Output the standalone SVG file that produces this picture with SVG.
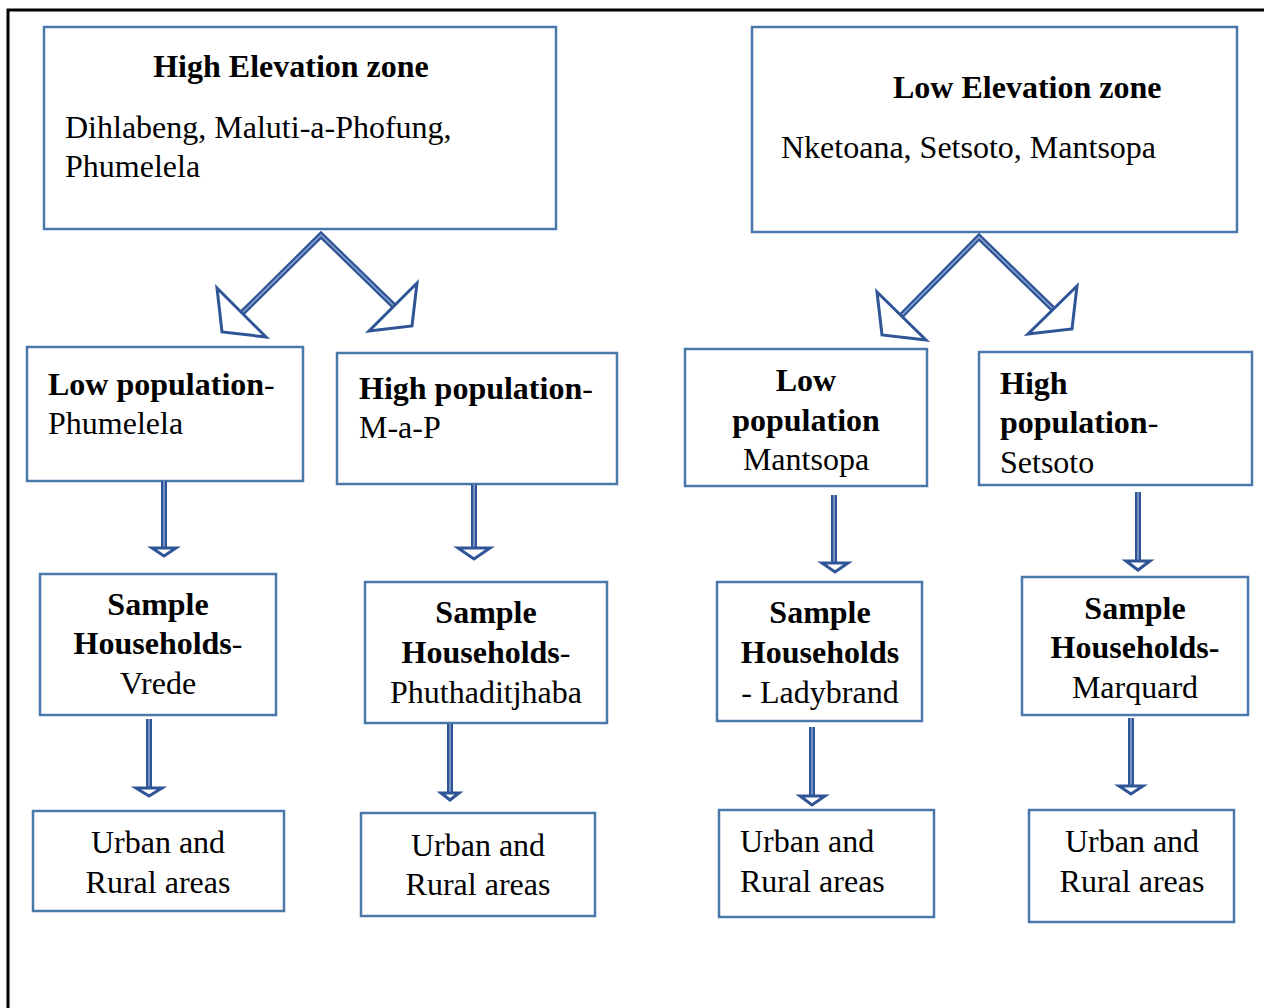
<svg xmlns="http://www.w3.org/2000/svg" width="1264" height="1008" viewBox="0 0 1264 1008">
<style>
.box{fill:#fff;stroke:#4a78aa;stroke-width:2.5}
text{font-family:"Liberation Serif","Times New Roman",serif;font-size:32px;fill:#000}
.b{font-weight:bold}
.m{text-anchor:middle}
.shaft{fill:none;stroke:#2f5597;stroke-width:6;stroke-linejoin:miter}
.inner{fill:none;stroke:#8ea6cf;stroke-width:1.5;stroke-linejoin:miter}
.head{fill:#fff;stroke:#2f5597;stroke-width:3;stroke-linejoin:miter}
</style>
<rect width="1264" height="1008" fill="#fff"/>
<path d="M8,1008 V10 H1264" fill="none" stroke="#000" stroke-width="3"/>

<g id="n1"><rect class="box" x="44" y="27" width="512" height="202"/>
<text class="b m" x="291" y="77">High Elevation zone</text>
<text x="65" y="138">Dihlabeng, Maluti-a-Phofung,</text>
<text x="65" y="177">Phumelela</text></g>

<g id="n2"><rect class="box" x="752" y="27" width="485" height="205"/>
<text class="b" x="893" y="98">Low Elevation zone</text>
<text x="781" y="158">Nketoana, Setsoto, Mantsopa</text></g>

<g id="n3"><rect class="box" x="27" y="347" width="276" height="134"/>
<text class="b" x="48" y="395">Low population<tspan font-weight="normal">-</tspan></text>
<text x="48" y="434">Phumelela</text></g>

<g id="n4"><rect class="box" x="337" y="353" width="280" height="131"/>
<text class="b" x="359" y="399">High population<tspan font-weight="normal">-</tspan></text>
<text x="359" y="438">M-a-P</text></g>

<g id="n5"><rect class="box" x="685" y="349" width="242" height="137"/>
<text class="b m" x="806" y="391">Low</text>
<text class="b m" x="806" y="431">population</text>
<text class="m" x="806" y="470">Mantsopa</text></g>

<g id="n6"><rect class="box" x="979" y="352" width="273" height="133"/>
<text class="b" x="1000" y="394">High</text>
<text class="b" x="1000" y="433">population<tspan font-weight="normal">-</tspan></text>
<text x="1000" y="473">Setsoto</text></g>

<g id="n7"><rect class="box" x="40" y="574" width="236" height="141"/>
<text class="b m" x="158" y="615">Sample</text>
<text class="b m" x="158" y="654">Households<tspan font-weight="normal">-</tspan></text>
<text class="m" x="158" y="694">Vrede</text></g>

<g id="n8"><rect class="box" x="365" y="582" width="242" height="141"/>
<text class="b m" x="486" y="623">Sample</text>
<text class="b m" x="486" y="663">Households<tspan font-weight="normal">-</tspan></text>
<text class="m" x="486" y="703">Phuthaditjhaba</text></g>

<g id="n9"><rect class="box" x="717" y="582" width="205" height="139"/>
<text class="b m" x="820" y="623">Sample</text>
<text class="b m" x="820" y="663">Households</text>
<text class="m" x="820" y="703">- Ladybrand</text></g>

<g id="n10"><rect class="box" x="1022" y="577" width="226" height="138"/>
<text class="b m" x="1135" y="619">Sample</text>
<text class="b m" x="1135" y="658">Households-</text>
<text class="m" x="1135" y="698">Marquard</text></g>

<g id="n11"><rect class="box" x="33" y="811" width="251" height="100"/>
<text class="m" x="158" y="853">Urban and</text>
<text class="m" x="158" y="893">Rural areas</text></g>

<g id="n12"><rect class="box" x="361" y="813" width="234" height="103"/>
<text class="m" x="478" y="856">Urban and</text>
<text class="m" x="478" y="895">Rural areas</text></g>

<g id="n13"><rect class="box" x="719" y="810" width="215" height="107"/>
<text x="740" y="852">Urban and</text>
<text x="740" y="892">Rural areas</text></g>

<g id="n14"><rect class="box" x="1029" y="810" width="205" height="112"/>
<text class="m" x="1132" y="852">Urban and</text>
<text class="m" x="1132" y="892">Rural areas</text></g>

<g id="connectors">
<path class="shaft" d="M241,314 L321,235 L395,307"/>
<path class="inner" d="M241,314 L321,235 L395,307"/>
<polygon class="head" points="217,288 222,332 266,337"/>
<polygon class="head" points="417,283 412,326 369,331"/>

<path class="shaft" d="M901,316 L979,237 L1054,310"/>
<path class="inner" d="M901,316 L979,237 L1054,310"/>
<polygon class="head" points="877,292 882,335 926,340"/>
<polygon class="head" points="1077,286 1072,329 1028,334"/>

<path class="shaft" d="M164,481 V548"/><path class="inner" d="M164,481 V548"/>
<polygon class="head" points="152,548 176,548 164,556"/>
<path class="shaft" d="M474,484 V548"/><path class="inner" d="M474,484 V548"/>
<polygon class="head" points="458,548 490,548 474,559"/>
<path class="shaft" d="M834,495 V563"/><path class="inner" d="M834,495 V563"/>
<polygon class="head" points="822,563 848,563 835,572"/>
<path class="shaft" d="M1138,492 V561"/><path class="inner" d="M1138,492 V561"/>
<polygon class="head" points="1126,561 1150,561 1138,570"/>

<path class="shaft" d="M149,719 V788"/><path class="inner" d="M149,719 V788"/>
<polygon class="head" points="136,788 162,788 149,796"/>
<path class="shaft" d="M450,724 V793"/><path class="inner" d="M450,724 V793"/>
<polygon class="head" points="441,793 459,793 450,800"/>
<path class="shaft" d="M812,727 V796"/><path class="inner" d="M812,727 V796"/>
<polygon class="head" points="800,796 825,796 812,805"/>
<path class="shaft" d="M1131,718 V786"/><path class="inner" d="M1131,718 V786"/>
<polygon class="head" points="1119,786 1143,786 1131,794"/>
</g>
</svg>
